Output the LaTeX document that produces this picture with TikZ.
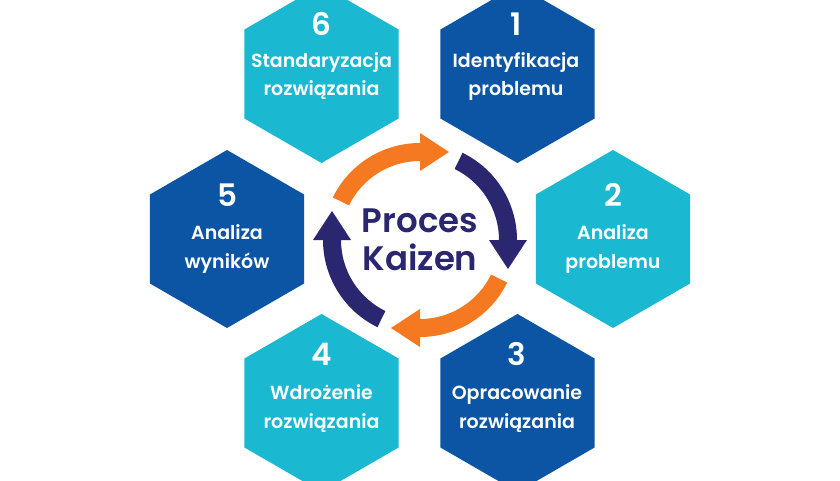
\documentclass[tikz,border=0pt]{standalone}
\usepackage{fontspec}
\setmainfont{Poppins}
\IfFontExistsTF{Poppins SemiBold}
  {\newfontfamily\hexfont{Poppins SemiBold}}
  {\newfontfamily\hexfont{Poppins}[UprightFont=*-Bold]}
\let\centfont\hexfont
\definecolor{cyanh}{HTML}{1BB8D2}
\definecolor{blueh}{HTML}{0B55A4}
\definecolor{orangea}{HTML}{F47920}
\definecolor{navya}{HTML}{2A2670}
\tikzset{
  numtext/.style={text=white, anchor=base, inner sep=0pt, font=\hexfont\fontsize{31}{31}\selectfont},
  labtext/.style={text=white, anchor=base, inner sep=0pt, font=\hexfont\fontsize{19}{19}\selectfont},
  centtext/.style={text=navya, anchor=base, inner sep=0pt, font=\centfont\fontsize{34}{34}\selectfont},
  kaizenarrow/.pic={
    \fill[#1] (154:97pt) arc[start angle=154, end angle=90, radius=97pt]
      -- (90:107pt) -- (29pt,88pt) -- (90:69pt) -- (90:79pt)
      arc[start angle=90, end angle=154, radius=79pt] -- cycle;
  }
}
\newcommand{\hexpath}[2]{%
  \fill[#2] (#1) +(30:89) -- +(90:89) -- +(150:89) -- +(210:89) -- +(270:89) -- +(330:89) -- cycle;}
\begin{document}
\begin{tikzpicture}[x=1pt,y=1pt]
\useasboundingbox (0,0) rectangle (840,480);
\fill[white] (0,0) rectangle (840,480);
\clip (0,0) rectangle (840,480);
% hexagon centres
\coordinate (h6) at (321.5,406);
\coordinate (h1) at (517.5,406);
\coordinate (h5) at (227,241);
\coordinate (h2) at (613,241);
\coordinate (h4) at (321.5,77);
\coordinate (h3) at (517.5,77);
\coordinate (c) at (420,240);
\hexpath{h6}{cyanh}
\hexpath{h1}{blueh}
\hexpath{h5}{blueh}
\hexpath{h2}{cyanh}
\hexpath{h4}{cyanh}
\hexpath{h3}{blueh}
% texts
\node[numtext] (n6) at (321.5,444) {6};
\node[labtext] (a6) at (321.5,412) {Standaryzacja};
\node[labtext] (b6) at (321.5,384) {rozwiązania};
\node[numtext] (n1) at (516,444) {1};
\node[labtext] (a1) at (516,412) {Identyfikacja};
\node[labtext] (b1) at (516,384) {problemu};
\node[numtext] (n5) at (227,274) {5};
\node[labtext] (a5) at (227,241) {Analiza};
\node[labtext] (b5) at (227,212) {wyników};
\node[numtext] (n2) at (613,274) {2};
\node[labtext] (a2) at (613,241) {Analiza};
\node[labtext] (b2) at (613,212) {problemu};
\node[numtext] (n4) at (321.5,115) {4};
\node[labtext] (a4) at (321.5,81) {Wdrożenie};
\node[labtext] (b4) at (321.5,52) {rozwiązania};
\node[numtext] (n3) at (517,115) {3};
\node[labtext] (a3) at (517,81) {Opracowanie};
\node[labtext] (b3) at (517,52) {rozwiązania};
% cycle arrows
\pic at (c) {kaizenarrow=orangea};
\pic[rotate=-90] at (c) {kaizenarrow=navya};
\pic[rotate=-180] at (c) {kaizenarrow=orangea};
\pic[rotate=-270] at (c) {kaizenarrow=navya};
\node[centtext] (p1) at (420,248) {Proces};
\node[centtext] (p2) at (420,210) {Kaizen};
\end{tikzpicture}
\end{document}
